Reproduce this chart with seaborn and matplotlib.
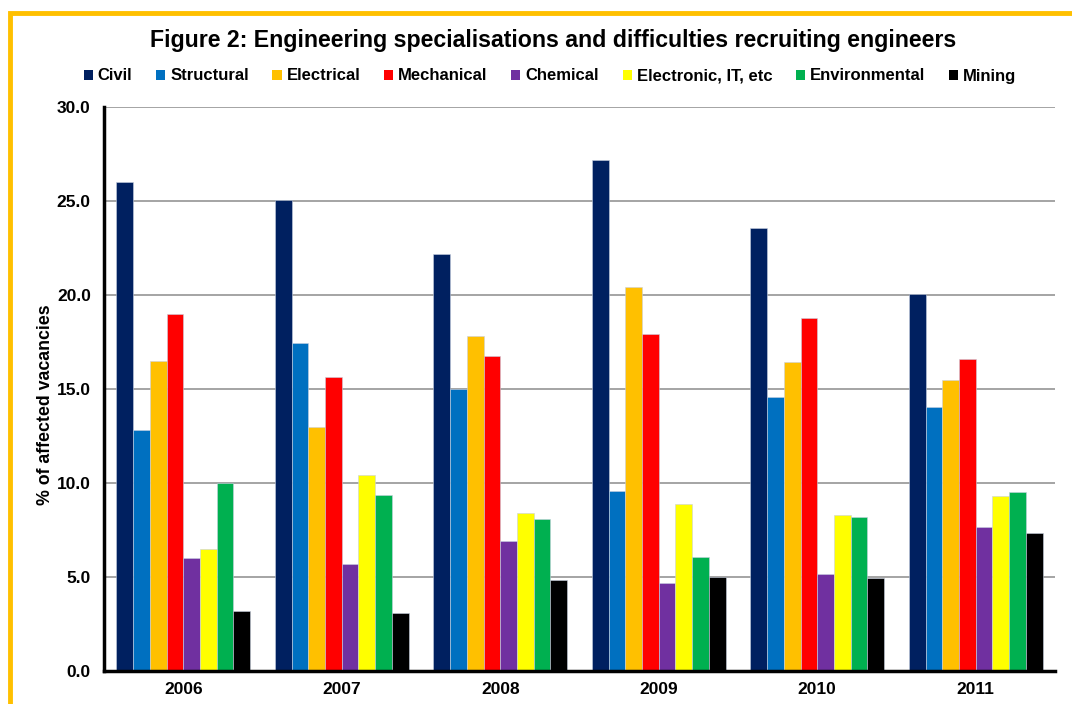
import matplotlib
matplotlib.use("Agg")
import matplotlib.pyplot as plt
import matplotlib.patches as mpatches
import seaborn as sns
import pandas as pd

years = ["2006", "2007", "2008", "2009", "2010", "2011"]
specialisations = ["Civil", "Structural", "Electrical", "Mechanical", "Chemical",
                   "Electronic, IT, etc", "Environmental", "Mining"]

civil = [26.0, 25.05, 22.2, 27.2, 23.55, 20.05]
structural = [12.84, 17.46, 15.0, 9.55, 14.58, 14.05]
electrical = [16.5, 13.0, 17.8, 20.4, 16.44, 15.5]
mechanical = [19.0, 15.65, 16.75, 17.95, 18.8, 16.58]
chemical = [6.0, 5.7, 6.9, 4.68, 5.17, 7.65]
electronic = [6.49, 10.4, 8.38, 8.86, 8.28, 9.31]
environmental = [10.0, 9.35, 8.08, 6.05, 8.18, 9.5]
mining = [3.17, 3.08, 4.84, 5.0, 4.96, 7.35]

colors = ["#002060", "#0070C0", "#FFC000", "#FF0000", "#7030A0",
          "#FFFF00", "#00B050", "#000000"]

series = [civil, structural, electrical, mechanical, chemical,
          electronic, environmental, mining]
rows = []
for name, vals in zip(specialisations, series):
    for yr, v in zip(years, vals):
        rows.append({"Year": yr, "Specialisation": name, "Value": v})
df = pd.DataFrame(rows)

sns.set_theme(style="white")
plt.rcParams["font.family"] = ["Liberation Sans", "DejaVu Sans"]
plt.rcParams["text.color"] = "black"
plt.rcParams["axes.labelcolor"] = "black"
plt.rcParams["xtick.color"] = "black"
plt.rcParams["ytick.color"] = "black"

fig = plt.figure(figsize=(10.72, 7.04), dpi=100)
ax = fig.add_axes([104 / 1072, 33 / 704, (1055 - 104) / 1072, (671 - 107) / 704])

sns.barplot(data=df, x="Year", y="Value", hue="Specialisation",
            hue_order=specialisations, order=years, palette=colors,
            width=0.845, gap=0, ax=ax, legend=False, errorbar=None,
            edgecolor="#c8d0e0", linewidth=0.4, saturation=1)

ax.set_ylim(0, 30)
ax.set_xlim(-0.5, 5.5)
ax.set_yticks([0, 5, 10, 15, 20, 25, 30])
ax.set_yticklabels([f"{v:.1f}" for v in [0, 5, 10, 15, 20, 25, 30]],
                   fontsize=12.5, fontweight="bold")
ax.yaxis.grid(True, color="#8c8c8c", linewidth=1.1)
ax.set_axisbelow(True)

# year labels at category centres, tick marks at category boundaries
ax.set_xticks([i - 0.5 for i in range(len(years) + 1)])
ax.set_xticklabels([])
ax.set_xticks(range(len(years)), minor=True)
ax.set_xticklabels(years, minor=True, fontsize=12.5, fontweight="bold")
ax.tick_params(axis="x", which="minor", length=0, pad=8)
ax.tick_params(axis="x", which="major", direction="inout", length=7, width=2.5, color="black")
ax.tick_params(axis="y", direction="inout", length=7, width=2.5, color="black", pad=6)

for side in ["top", "right"]:
    ax.spines[side].set_visible(False)
for side in ["left", "bottom"]:
    ax.spines[side].set_color("black")
    ax.spines[side].set_linewidth(2.5)

ax.set_xlabel("")
ax.set_ylabel("% of affected vacancies", fontsize=12.8, fontweight="bold", labelpad=3)
ax.yaxis.set_label_coords(-0.0525, (671 - 405) / 564)

# title and legend
fig.text(553 / 1072, 1 - 40 / 704, "Figure 2: Engineering specialisations and difficulties recruiting engineers",
         ha="center", va="center", fontsize=16.7, fontweight="bold")
handles = [mpatches.Patch(facecolor=c, edgecolor="none", label=n)
           for n, c in zip(specialisations, colors)]
fig.legend(handles=handles, loc="center", bbox_to_anchor=(550 / 1072, 1 - 76 / 704),
           ncol=8, frameon=False, prop={"weight": "bold", "size": 12},
           handlelength=0.55, handleheight=0.55, handletextpad=0.3,
           columnspacing=1.42, borderaxespad=0)

# gold frame around the chart
frame = mpatches.Rectangle((10 / 1072, -0.2), 1.3, 1 - 13 / 704 + 0.2,
                           transform=fig.transFigure, fill=False,
                           edgecolor="#FFC000", linewidth=3.5, clip_on=False)
fig.patches.append(frame)

fig.savefig("out.png", dpi=100)
